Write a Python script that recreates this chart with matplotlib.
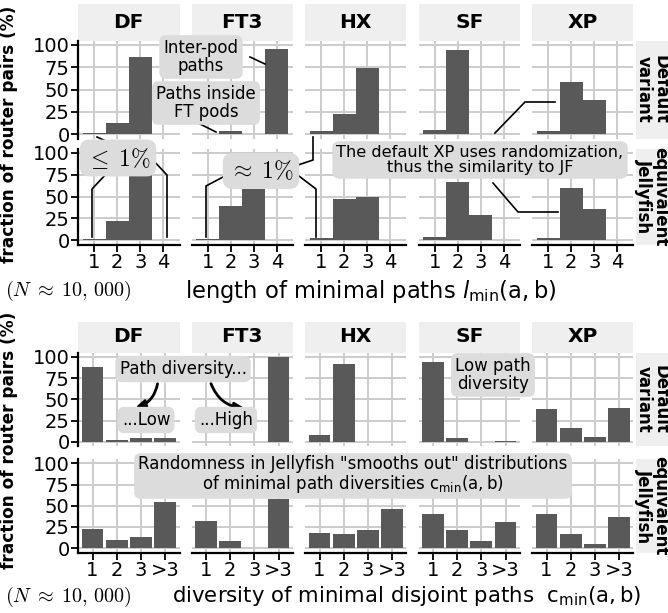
import matplotlib.pyplot as plt
from matplotlib.lines import Line2D
from matplotlib.patches import FancyArrowPatch

plt.rcParams["font.family"] = ["DejaVu Sans"]

W, H = 668, 613
BAR = "#595959"
GRID = "#CCCCCC"
STRIP = "#EFEFEF"
BOX = "#DCDCDC"

topologies = ["DF", "FT3", "HX", "SF", "XP"]
row_labels = ["Default\nvariant", "equivalent\nJellyfish"]

# length of minimal paths, share (%) of router pairs for l = 1, 2, 3, 4
length_ticks = [1, 2, 3, 4]
length_default = [
    [0.8, 12, 86, 0],
    [0, 3.5, 0, 96],
    [3.5, 22.5, 74, 0],
    [4, 94.5, 0, 0],
    [3.5, 58.5, 38, 0],
]
length_jellyfish = [
    [0.8, 22, 77.5, 0.7],
    [1, 39.5, 59, 0],
    [2, 47.5, 50, 0],
    [3.5, 66.5, 29, 0],
    [3, 60, 36, 0],
]

# diversity of minimal disjoint paths, share (%) for c = 1, 2, 3, >3
diversity_labels = ["1", "2", "3", ">3"]
diversity_default = [
    [87.5, 2, 4, 5],
    [0, 0, 0, 100],
    [7.5, 91, 0, 0],
    [93.5, 4, 0, 0.8],
    [38.5, 16, 5.5, 39.5],
]
diversity_jellyfish = [
    [23, 10, 13.5, 54.5],
    [32, 8, 0.8, 58],
    [17.5, 16.5, 21, 46.5],
    [40.5, 21, 8, 31],
    [40, 17, 5, 37],
]

fig = plt.figure(figsize=(W / 100, H / 100), dpi=100)


def fx(x):
    return x / W


def fy(y):
    return 1 - y / H


def ax_px(x0, y0, x1, y1, **kw):
    return fig.add_axes([fx(x0), fy(y1), (x1 - x0) / W, (y1 - y0) / H], **kw)


col_x = [78, 191.5, 305, 418.5, 532]
col_w = 101.5


def strip(x0, y0, x1, y1, text, rot=0, size=14.5):
    s = ax_px(x0, y0, x1, y1)
    s.set_facecolor(STRIP)
    s.set_xticks([])
    s.set_yticks([])
    for sp in s.spines.values():
        sp.set_visible(False)
    s.text(0.5, 0.5, text, transform=s.transAxes, ha="center", va="center",
           rotation=rot, fontsize=size, fontweight="bold", linespacing=0.88)


def facet_grid(rows_y, strip_y, data_rows, xs, width, xlim, xticklabels):
    for c, name in enumerate(topologies):
        x0 = col_x[c]
        strip(x0, strip_y[0], x0 + col_w, strip_y[1], name)
        for r, (y0, y1) in enumerate(rows_y):
            ax = ax_px(x0, y0, x0 + col_w, y1)
            ax.bar(xs, data_rows[r][c], width=width, color=BAR, linewidth=0, zorder=2)
            ax.set_xlim(*xlim)
            ax.set_ylim(-5, 105)
            ax.set_xticks(xs)
            ax.set_yticks([0, 25, 50, 75, 100])
            ax.grid(True, color=GRID, linewidth=1.4, zorder=0)
            ax.set_axisbelow(True)
            for sp in ax.spines.values():
                sp.set_visible(False)
            ax.tick_params(length=5, width=1.3, color="black", labelsize=14, pad=1)
            if c == 0:
                ax.spines["left"].set_visible(True)
                ax.spines["left"].set_linewidth(1.6)
            else:
                ax.tick_params(left=False, labelleft=False)
            if r == len(rows_y) - 1:
                ax.spines["bottom"].set_visible(True)
                ax.spines["bottom"].set_linewidth(1.6)
                ax.set_xticklabels(xticklabels)
            else:
                ax.tick_params(bottom=False, labelbottom=False)
    for r, (y0, y1) in enumerate(rows_y):
        strip(636, y0, 668, y1, row_labels[r], rot=-90, size=12)


# ---- top grid: length of minimal paths ----
facet_grid([(40.5, 138.5), (148.5, 244.5)], (4, 40.5),
           [length_default, length_jellyfish], length_ticks, 1.0, (0.3, 4.7),
           [str(v) for v in length_ticks])

# ---- bottom grid: diversity of minimal disjoint paths ----
facet_grid([(352.5, 446), (459, 552.5)], (321.5, 352.5),
           [diversity_default, diversity_jellyfish], [1, 2, 3, 4], 0.9, (0.4, 4.6),
           diversity_labels)

# axis titles
for yc in (134, 440):
    fig.text(fx(9), fy(yc), "fraction of router pairs (%)", rotation=90,
             ha="center", va="center", fontsize=12.2, fontweight="bold")
n_label = r"$(N \;\approx\; 10,\,000)$"
fig.text(fx(5), fy(291), n_label, ha="left", va="center",
         fontsize=14.5, math_fontfamily="cm")
fig.text(fx(371), fy(292), r"length of minimal paths $l_{\mathrm{min}}(\mathrm{a},\mathrm{b})$",
         ha="center", va="center", fontsize=16.3, math_fontfamily="dejavusans")
fig.text(fx(5), fy(597), n_label, ha="left", va="center",
         fontsize=14.5, math_fontfamily="cm")
fig.text(fx(407), fy(596),
         r"diversity of minimal disjoint paths  $\mathrm{c}_{\mathrm{min}}(\mathrm{a},\mathrm{b})$",
         ha="center", va="center", fontsize=15.3, math_fontfamily="dejavusans")


def label(x, y, s, size=12, math=None):
    kw = {"math_fontfamily": math} if math else {}
    fig.text(fx(x), fy(y), s, ha="center", va="center", fontsize=size,
             linespacing=0.95, zorder=5,
             bbox=dict(boxstyle="round,pad=0.25,rounding_size=0.4", fc=BOX, ec="none"), **kw)


def leader(*pts):
    fig.add_artist(Line2D([fx(p[0]) for p in pts], [fy(p[1]) for p in pts],
                          color="black", linewidth=1.2, zorder=4))


# top annotations
label(201, 57, "Inter-pod\npaths")
leader((250, 57), (265, 64))
label(206, 103, "Paths inside\nFT pods")
leader((200, 124), (216, 132))
label(118, 158, r"$\leq\; 1\%$", size=17, math="cm")
leader((97, 137), (110, 143))
leader((108, 172), (92, 189), (92, 237))
leader((150, 157), (167, 175), (167, 237))
label(261, 171, r"$\approx\; 1\%$", size=17, math="cm")
leader((225, 176), (206, 186), (206, 237))
leader((295, 166), (313, 160), (313, 137))
leader((295, 173), (316, 189), (316, 237))
label(480, 160, "The default XP uses randomization,\nthus the similarity to JF", size=11.6)
leader((495, 133), (525, 102), (555, 102))
leader((493, 183), (518, 212), (558, 212))

# bottom annotations
label(183, 369, "Path diversity...")
label(146, 420, "...Low")
label(226, 420, "...High")
for (x0, y0), (x1, y1), rad in (((158, 381), (133, 408), -0.35),
                                 ((210, 381), (247, 408), 0.35)):
    fig.add_artist(FancyArrowPatch((fx(x0), fy(y0)), (fx(x1), fy(y1)),
                                   transform=fig.transFigure,
                                   connectionstyle=f"arc3,rad={rad}",
                                   arrowstyle="-|>", mutation_scale=14,
                                   color="black", linewidth=2, zorder=4))
label(493, 375, "Low path\ndiversity")
label(353, 475, "Randomness in Jellyfish \"smooths out\" distributions\n"
      r"of minimal path diversities $\mathrm{c}_{\mathrm{min}}(\mathrm{a},\mathrm{b})$",
      math="dejavusans")

fig.savefig("out.png", dpi=100)
